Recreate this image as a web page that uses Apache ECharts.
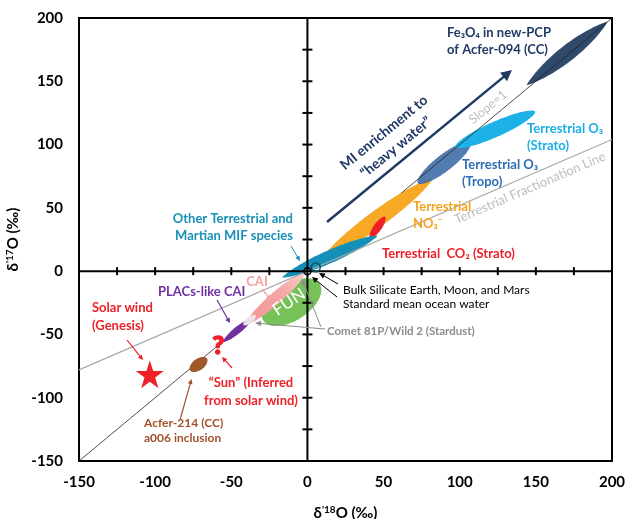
<!DOCTYPE html>
<html><head><meta charset="utf-8">
<script src="https://cdn.jsdelivr.net/npm/echarts@6/dist/echarts.min.js"></script>
<style>html,body{margin:0;padding:0;background:#fff}#c{width:627px;height:519px}</style>
</head><body><div id="c"></div>
<script>
// ---- data (per mil) ----
const axisMin = -150, axisMax = 200, labelStep = 50;
const zeroLineTicks = [-125,-100,-75,-50,-25,25,50,75,100,125,150,175];
const slopeOneLower = [[-150,-150],[62,62]];
const slopeOneUpper = [[62,62],[200,200]];
const tflLine = [[-150,-78],[200,104]];
// ellipses: [x1, y1, x2, y2, width] along major axis (d18O, d17O)
const fe3o4Acfer094 = [144, 147, 197, 197, 10.5];
const o3Strato = [97, 98, 149.5, 126, 10];
const o3Tropo = [72.5, 69.5, 107, 101.5, 11];
const no3Terrestrial = [10, 10, 82, 73, 11];
const co2Strato = [41, 26, 51, 43, 5.3];
const mifOther = [-16.5, -5, 46, 28, 8.5];
const funCai = [-29, -39, 8, -10, 24];
const caiRange = [-40, -41.5, -2, -1.5, 7.8];
const placsCai = [-55.5, -56, -36.5, -37.5, 4.6];
const cometWild2 = [-42, -42.5, -34, -35, 4.2];
const acfer214 = [-77, -78.5, -66, -69, 7.6];
const solarWind = [[-103.5, -81.5]];
const sunInferred = [[-58.5, -59]];
const smow = [[0, 0]];
const bulkSilicate = [[5.5, 3]];

const FONT = 'Lato, "Open Sans", sans-serif';

function ellipse(name, d, fill, opacity, pointy, z) {
  return {
    type: 'custom', name, data: [d], z: z, silent: true,
    renderItem: function (params, api) {
      const p1 = api.coord([api.value(0), api.value(1)]);
      const p2 = api.coord([api.value(2), api.value(3)]);
      const w = api.size([api.value(4), 0])[0] / 2;
      const cx = (p1[0] + p2[0]) / 2, cy = (p1[1] + p2[1]) / 2;
      const L = Math.hypot(p2[0] - p1[0], p2[1] - p1[1]) / 2;
      const a = Math.atan2(p2[1] - p1[1], p2[0] - p1[0]);
      const ca = Math.cos(a), sa = Math.sin(a);
      const pts = [];
      for (let i = 0; i < 96; i++) {
        const t = i / 96 * 2 * Math.PI;
        const s = Math.sin(t);
        const ex = L * Math.cos(t);
        const ey = w * s * Math.pow(Math.abs(s), pointy);
        pts.push([cx + ex * ca - ey * sa, cy + ex * sa + ey * ca]);
      }
      let f = fill;
      if (Array.isArray(fill)) {
        f = new echarts.graphic.LinearGradient(p1[0], p1[1], p2[0], p2[1],
          fill.map((c, i) => ({offset: i / (fill.length - 1), color: c})), true);
      }
      return {type: 'polygon', shape: {points: pts}, style: {fill: f, opacity: opacity}};
    }
  };
}

const option = {
  animation: false,
  backgroundColor: '#fff',
  grid: {left: 79, right: 15, top: 18, bottom: 58, show: true, borderColor: '#000', borderWidth: 2,
    backgroundColor: '#fff', containLabel: false, outerBoundsMode: 'none'},
  xAxis: {
    type: 'value', min: axisMin, max: axisMax, interval: labelStep,
    axisLine: {show: false}, axisTick: {show: false}, splitLine: {show: false},
    axisLabel: {color: '#000', fontFamily: FONT, fontWeight: 'bold', fontSize: 15, margin: 14},
    name: "{a|δ}{s|'18}{a|O (‰)}", nameLocation: 'middle', nameGap: 44,
    nameTextStyle: {rich: {
      a: {fontFamily: FONT, fontWeight: 'bold', fontSize: 15, color: '#000'},
      s: {fontFamily: FONT, fontWeight: 'bold', fontSize: 10, color: '#000', padding: [0, 0, 7, 0]}
    }}
  },
  yAxis: {
    type: 'value', min: axisMin, max: axisMax, interval: labelStep,
    axisLine: {show: false}, axisTick: {show: false}, splitLine: {show: false},
    axisLabel: {color: '#000', fontFamily: FONT, fontWeight: 'bold', fontSize: 15, margin: 16},
    name: "{a|δ}{s|'17}{a|O (‰)}", nameLocation: 'middle', nameGap: 48, nameRotate: 90,
    nameTextStyle: {rich: {
      a: {fontFamily: FONT, fontWeight: 'bold', fontSize: 15, color: '#000'},
      s: {fontFamily: FONT, fontWeight: 'bold', fontSize: 10, color: '#000', padding: [0, 0, 7, 0]}
    }}
  },
  series: [
    {type: 'line', data: slopeOneLower, symbol: 'none', silent: true, z: 1,
     lineStyle: {color: '#222', width: 0.8}},
    ellipse('NO3', no3Terrestrial, '#f7a825', 1, 0.35, 3),
    ellipse('CO2', co2Strato, '#ee2028', 1, 0.2, 4),
    ellipse('MIF', mifOther, '#1490b8', 1, 0.5, 5),
    ellipse('Tropo', o3Tropo, '#3a69a6', 0.88, 0.1, 6),
    ellipse('Strato', o3Strato, '#1cb2e8', 1, 0.1, 7),
    ellipse('Fe3O4', fe3o4Acfer094, '#2f4a6b', 1, 0.7, 8),
    ellipse('FUN', funCai, '#77c159', 1, 0, 3),
    ellipse('CAI', caiRange, ['#f39a9a', '#f39d9c', '#f5aaa9', '#f9cfcd'], 1, 0.15, 4),
    ellipse('PLACs', placsCai, '#7030a0', 1, 0.4, 5),
    ellipse('Comet', cometWild2, '#e9e3ea', 1, 0.2, 6),
    ellipse('Acfer214', acfer214, '#a0582b', 1, 0.1, 5),
    {type: 'line', data: tflLine, symbol: 'none', silent: true, z: 9,
     lineStyle: {color: '#a8a8a8', width: 1.2}},
    {type: 'line', data: slopeOneUpper, symbol: 'none', silent: true, z: 9,
     lineStyle: {color: '#222', width: 0.8}},
    {type: 'line', data: [[axisMin, 0], [axisMax, 0]], symbol: 'none', silent: true, z: 10,
     lineStyle: {color: '#000', width: 2}},
    {type: 'line', data: [[0, axisMin], [0, axisMax]], symbol: 'none', silent: true, z: 10,
     lineStyle: {color: '#000', width: 2}},
    {type: 'scatter', data: zeroLineTicks.map(v => [v, 0]), symbol: 'rect', symbolSize: [2, 8],
     silent: true, z: 10, itemStyle: {color: '#000', opacity: 1}},
    {type: 'scatter', data: zeroLineTicks.map(v => [0, v]), symbol: 'rect', symbolSize: [10, 2],
     silent: true, z: 10, itemStyle: {color: '#000', opacity: 1}},
    {type: 'scatter', data: solarWind, z: 11, silent: true, symbolSize: 28,
     symbol: 'path://M50,0 L61.23,34.55 L97.55,34.55 L68.16,55.9 L79.39,90.45 L50,69.1 L20.61,90.45 L31.84,55.9 L2.45,34.55 L38.77,34.55 Z',
     itemStyle: {color: '#ee2028', opacity: 1}},
    {type: 'scatter', data: sunInferred, z: 11, silent: true, symbolSize: 1,
     itemStyle: {color: 'rgba(0,0,0,0)', opacity: 1},
     label: {show: true, position: 'inside', formatter: '?', color: '#ee2028',
       fontFamily: FONT, fontWeight: 900, fontSize: 25, textBorderColor: '#ee2028', textBorderWidth: 1.5}},
    {type: 'scatter', data: smow, z: 12, silent: true, symbol: 'circle', symbolSize: 7,
     itemStyle: {color: 'rgba(0,0,0,0)', borderColor: '#000', borderWidth: 1.5, opacity: 1}},
    {type: 'scatter', data: bulkSilicate, z: 12, silent: true, symbol: 'circle', symbolSize: 9,
     itemStyle: {color: 'rgba(0,0,0,0)', borderColor: '#0b4f68', borderWidth: 1.5, opacity: 1}}
  ]
};

function txt(text, x, y, color, size, opts) {
  opts = opts || {};
  return {type: 'text', x: x, y: y, rotation: opts.rot ? opts.rot * Math.PI / 180 : 0, z: 100,
    style: {text: text, x: 0, y: 0, fill: color,
      font: (opts.normal ? '' : 'bold ') + size + 'px ' + FONT,
      textAlign: opts.align || 'left', textVerticalAlign: 'middle', lineHeight: opts.lh || 17}};
}
function arrow(x1, y1, x2, y2, color, w, hl, hw) {
  const a = Math.atan2(y2 - y1, x2 - x1), c = Math.cos(a), s = Math.sin(a);
  const bx = x2 - hl * c, by = y2 - hl * s;
  return {type: 'group', z: 100, children: [
    {type: 'line', z: 100, shape: {x1: x1, y1: y1, x2: bx + c, y2: by + s}, style: {stroke: color, lineWidth: w}},
    {type: 'polygon', z: 100, shape: {points: [[x2, y2], [bx - hw * s, by + hw * c], [bx + hw * s, by - hw * c]]},
     style: {fill: color}}
  ]};
}

option.graphic = [
  txt('Fe₃O₄ in new-PCP\nof Acfer-094 (CC)', 447, 41.5, '#1f3864', 13),
  txt('MI enrichment to\n“heavy water”', 390, 140, '#1f3864', 14, {align: 'center', rot: 39.4, lh: 19}),
  arrow(327, 222, 512, 70, '#1f3864', 2.5, 11, 5.5),
  txt('Slope=1', 488, 107, '#bdbdbd', 12.5, {align: 'center', rot: 39.7, normal: true}),
  txt('Terrestrial O₃\n(Strato)', 527, 137, '#1aaee8', 13),
  txt('Terrestrial O₃\n(Tropo)', 462, 173, '#2e6db4', 13),
  txt('Terrestrial Fractionation Line', 530, 188, '#bdbdbd', 13, {align: 'center', rot: 23.3, normal: true}),
  txt('Terrestrial\nNO₃⁻', 413, 215.5, '#f5a31f', 13),
  txt('Terrestrial  CO₂ (Strato)', 382, 254, '#ee2028', 13),
  txt('Other Terrestrial and\nMartian MIF species', 293, 227, '#1a8fb8', 13, {align: 'right'}),
  arrow(291, 246, 300, 261, '#1a8fb8', 1, 5, 2.5),
  txt('Bulk Silicate Earth, Moon, and Mars\nStandard mean ocean water', 343, 297, '#000', 12, {normal: true, lh: 14}),
  arrow(338, 284, 319, 273, '#000', 1, 6, 2.8),
  arrow(337, 297, 312, 277, '#000', 1, 6, 2.8),
  txt('Comet 81P/Wild 2 (Stardust)', 327, 331, '#8c8c8c', 11.5),
  arrow(325, 329, 255, 323, '#8c8c8c', 1, 6, 2.8),
  arrow(321, 327, 302, 279, '#8c8c8c', 1, 6, 2.8),
  txt('CAI', 257, 282, '#f4a0a0', 13, {align: 'center'}),
  arrow(262, 289, 271, 300, '#f4a0a0', 1.2, 5, 2.5),
  txt('PLACs-like CAI', 158, 292, '#7030a0', 13),
  arrow(217, 300, 230, 323, '#7030a0', 1.2, 5, 2.5),
  txt('Solar wind\n(Genesis)', 92, 317, '#ee2028', 13, {lh: 18}),
  arrow(127, 340, 143, 360, '#ee2028', 1.2, 5, 2.5),
  txt('“Sun” (Inferred\nfrom solar wind)', 251, 392, '#ee2028', 13, {align: 'center', lh: 18}),
  arrow(232, 368, 222, 357, '#ee2028', 1.2, 5, 2.5),
  txt('Acfer-214 (CC)\na006 inclusion', 144, 430.5, '#a0522d', 12, {lh: 15}),
  arrow(180, 420, 191.5, 379, '#a0522d', 1.2, 5, 2.5),
  txt('FUN', 289, 302, '#ffffff', 17, {align: 'center', rot: 33, normal: true})
];

const chart = echarts.init(document.getElementById('c'), null, {renderer: 'canvas'});
chart.setOption(option);
</script></body></html>
